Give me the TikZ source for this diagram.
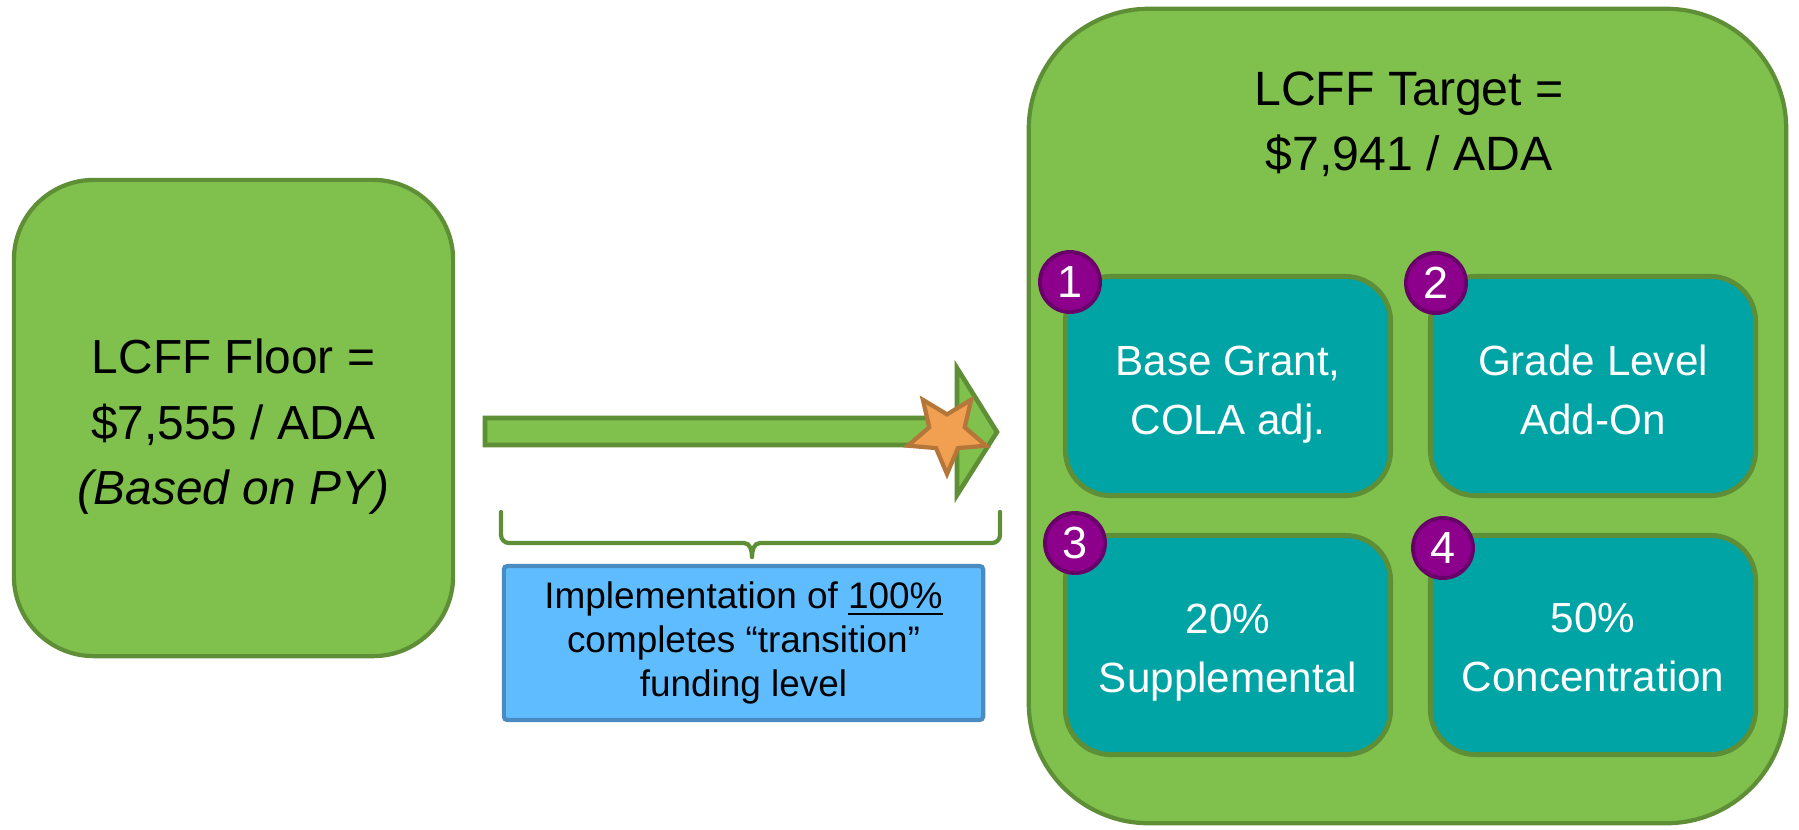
\documentclass[tikz,border=0pt]{standalone}
\usepackage{fontspec}
\setmainfont{Liberation Sans}
\usetikzlibrary{shapes.geometric}
\definecolor{gfill}{HTML}{80C04C}
\definecolor{gline}{HTML}{5E8E36}
\definecolor{tealfill}{HTML}{00A4A4}
\definecolor{purp}{HTML}{8C008C}
\definecolor{purpd}{HTML}{690069}
\definecolor{bfill}{HTML}{5FBDFF}
\definecolor{bline}{HTML}{4A8BC2}
\definecolor{sfill}{HTML}{F0A050}
\definecolor{sline}{HTML}{B5763A}
\begin{document}
\begin{tikzpicture}[x=0.01cm,y=-0.01cm,
  greenbox/.style={rectangle, draw=gline, fill=gfill, line width=1.2pt, inner sep=0pt},
  tealbox/.style={rectangle, draw=gline, fill=tealfill, line width=1.4pt, rounded corners=0.45cm,
    minimum width=3.25cm, minimum height=2.19cm, inner sep=0pt},
  tealtext/.style={text=white, align=center, inner sep=0pt, text depth=0pt,
    font=\fontsize{12}{16.7}\selectfont},
  numdot/.style={circle, draw=purpd, fill=purp, line width=1.1pt, minimum size=0.6cm, inner sep=0pt,
    text=white, font=\fontsize{12.8}{14}\selectfont},
  bluebox/.style={rectangle, draw=bline, fill=bfill, line width=1.2pt, rounded corners=1pt,
    minimum width=4.79cm, minimum height=1.54cm, align=center, inner sep=0pt,
    font=\fontsize{10.5}{12.5}\selectfont},
  bracestyle/.style={draw=gline, line width=1.2pt, line cap=round},
  arrowstyle/.style={draw=gline, fill=gfill, line width=1.3pt, line join=miter},
  starstyle/.style={star, star points=5, star point ratio=2.2, shape border rotate=180,
    minimum size=0.82cm, inner sep=0pt, draw=sline, fill=sfill, line width=1.2pt}
]
\useasboundingbox (0,0) rectangle (1799,829);

% left floor box
\node[greenbox, rounded corners=0.8cm, minimum width=4.39cm, minimum height=4.76cm] (floor) at (233.5,418) {};
\node[align=center, inner sep=0pt, font=\fontsize{13.6}{18.6}\selectfont] (floortext) at (233.5,427)
  {LCFF Floor =\\ \$7,555 / ADA\\ \textit{(Based on PY)}};

% right target box
\node[greenbox, rounded corners=1.2cm, minimum width=7.57cm, minimum height=8.14cm] (target) at (1407.5,416) {};
\node[align=center, font=\fontsize{13.7}{18.5}\selectfont, inner sep=0pt] (title) at (1409,124)
  {LCFF Target =\\ \$7,941 / ADA};

% teal boxes
\node[tealbox] (b1) at (1228,386) {};
\node[tealbox] (b2) at (1593,386) {};
\node[tealbox] (b3) at (1228,645) {};
\node[tealbox] (b4) at (1593,645) {};
\node[tealtext] (t1) at (1228,390) {Base Grant,\\ COLA adj.};
\node[tealtext] (t2) at (1593,390) {Grade Level\\ Add-On};
\node[tealtext] (t3) at (1228,648) {20\%\\ Supplemental};
\node[tealtext] (t4) at (1593,647) {50\%\\ Concentration};

% number dots
\node[numdot] (n1) at (1070,282) {1};
\node[numdot] (n2) at (1436,283) {2};
\node[numdot] (n3) at (1075,543) {3};
\node[numdot] (n4) at (1443,548) {4};

% block arrow
\path[arrowstyle] (485,418) -- (957,418) -- (957,368) -- (997,432) -- (957,495) -- (957,445) -- (485,445) -- cycle;
\node[starstyle] (star) at (947,433) {};

% brace
\coordinate (brL) at (501,512);
\coordinate (brR) at (1000,512);
\coordinate (brTip) at (752,557);
\draw[bracestyle] (brL) -- (501,535) to[out=-90,in=180] (509,543) -- (744,543) to[out=0,in=90] (brTip);
\draw[bracestyle] (brR) -- (1000,535) to[out=-90,in=0] (992,543) -- (760,543) to[out=180,in=90] (brTip);

% blue note box
\node[bluebox] (note) at (743.5,643)
  {Implementation of \underline{100\%}\\ completes “transition”\\ funding level};
\end{tikzpicture}
\end{document}
